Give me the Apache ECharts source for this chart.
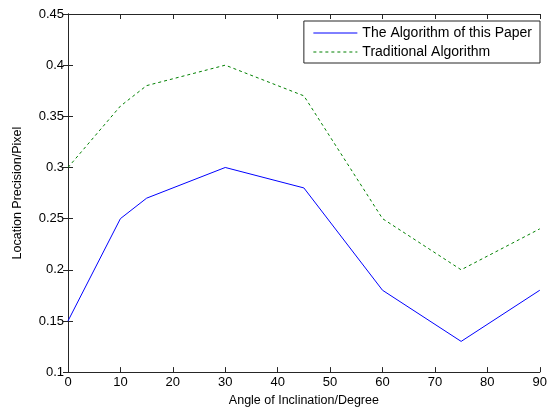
<!DOCTYPE html>
<html>
<head>
<meta charset="utf-8">
<script src="https://cdn.jsdelivr.net/npm/echarts@6/dist/echarts.min.js"></script>
<style>
html, body { margin: 0; padding: 0; background: #fff; }
#chart { width: 550px; height: 412px; }
</style>
</head>
<body>
<div id="chart"></div>
<script>
var angles = [0, 10, 15, 30, 45, 60, 75, 90];
var paperAlgo = [0.15, 0.25, 0.27, 0.30, 0.28, 0.18, 0.13, 0.18];
var tradAlgo = [0.30, 0.36, 0.38, 0.40, 0.37, 0.25, 0.20, 0.24];
var seriesNames = ['The Algorithm of this Paper', 'Traditional Algorithm'];

function pairs(xs, ys) {
    return xs.map(function (x, i) { return [x, ys[i]]; });
}

var font = 'Liberation Sans, Arial, sans-serif';
var axisLine = { show: true, lineStyle: { color: '#262626', width: 1 } };
var tick = { show: true, inside: true, length: 5, lineStyle: { color: '#262626' } };

var myChart = echarts.init(document.getElementById('chart'));
var option = {
    animation: false,
    grid: { left: 68, right: 5, top: 14, bottom: 39, containLabel: false },
    legend: {
        show: true,
        right: 10, top: 21,
        orient: 'vertical',
        align: 'left',
        backgroundColor: '#fff',
        borderColor: '#262626', borderWidth: 1,
        borderRadius: 0,
        padding: [5, 8, 4, 9],
        itemWidth: 44, itemHeight: 14, itemGap: 5,
        itemStyle: { opacity: 0 },
        lineStyle: { width: 1 },
        textStyle: { fontFamily: font, fontSize: 14, color: '#000' },
        data: seriesNames
    },
    xAxis: [{
        type: 'value', min: 0, max: 90, interval: 10,
        name: 'Angle of Inclination/Degree', nameLocation: 'middle', nameGap: 21,
        nameTextStyle: { fontFamily: font, fontSize: 12.5, color: '#000' },
        axisLine: axisLine, axisTick: tick,
        axisLabel: { fontFamily: font, fontSize: 13, color: '#000', margin: 4 },
        splitLine: { show: false }
    }, {
        type: 'value', position: 'top', min: 0, max: 90, interval: 10,
        axisLine: axisLine, axisTick: tick, axisLabel: { show: false }, splitLine: { show: false }
    }],
    yAxis: [{
        type: 'value', min: 0.1, max: 0.45, interval: 0.05,
        name: 'Location Precision/Pixel', nameLocation: 'middle', nameGap: 44,
        nameTextStyle: { fontFamily: font, fontSize: 12.5, color: '#000' },
        axisLine: axisLine, axisTick: tick,
        axisLabel: {
            fontFamily: font, fontSize: 13, color: '#000', margin: 4,
            formatter: function (v) { return String(+v.toFixed(2)); }
        },
        splitLine: { show: false }
    }, {
        type: 'value', position: 'right', min: 0.1, max: 0.45, interval: 0.05,
        axisLine: axisLine, axisTick: tick, axisLabel: { show: false }, splitLine: { show: false }
    }],
    series: [{
        name: seriesNames[0], type: 'line',
        data: pairs(angles, paperAlgo),
        symbol: 'none',
        color: '#0000ff',
        lineStyle: { color: '#0000ff', width: 1 }
    }, {
        name: seriesNames[1], type: 'line',
        data: pairs(angles, tradAlgo),
        symbol: 'none',
        color: '#008000',
        lineStyle: { color: '#008000', width: 1, type: [3, 3] }
    }]
};
myChart.setOption(option);
</script>
</body>
</html>
